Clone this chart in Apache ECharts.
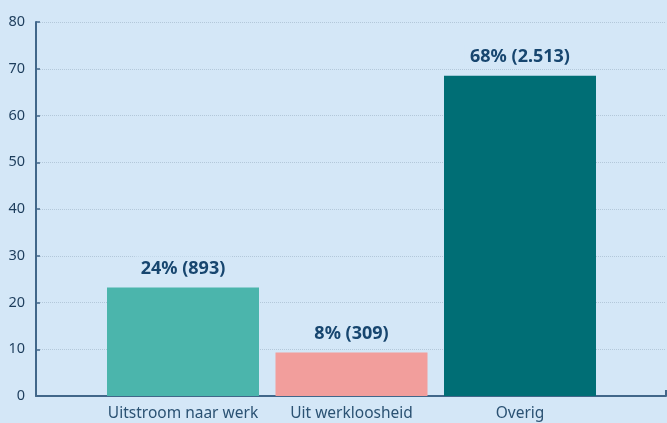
<!DOCTYPE html>
<html>
<head>
<meta charset="utf-8">
<script src="https://cdn.jsdelivr.net/npm/echarts@6/dist/echarts.min.js"></script>
<style>
  html, body { margin: 0; padding: 0; background: #d4e7f7; }
  #chart { width: 667px; height: 423px; }
</style>
</head>
<body>
<div id="chart"></div>
<script>
// data
const categories = ["Uitstroom naar werk", "Uit werkloosheid", "Overig"];
const values = [23.2, 9.3, 68.5];
const valueLabels = ["24% (893)", "8% (309)", "68% (2.513)"];
const barColors = ["#4bb5ac", "#f29e9c", "#006e75"];
const yTicks = [0, 10, 20, 30, 40, 50, 60, 70, 80];

const bg = "#d4e7f7";
const axisColor = "#41678a";
const font = "Noto Sans";

const chart = echarts.init(document.getElementById("chart"));

const options = {
  backgroundColor: bg,
  animation: false,
  textStyle: { fontFamily: font },
  grid: [
    // frame grid: axes + gridlines across the full width
    { left: 36, right: 1, top: 22, bottom: 27 },
    // bar grid: narrower bands for the bars
    { left: 98.75, right: 62.75, top: 22, bottom: 27 }
  ],
  xAxis: [
    {
      type: "category",
      gridIndex: 0,
      data: [""],
      axisLine: { lineStyle: { color: axisColor, width: 2 } },
      axisTick: { show: true, inside: true, length: 6, lineStyle: { color: axisColor, width: 2 } },
      axisLabel: { show: false }
    },
    {
      type: "category",
      gridIndex: 1,
      data: categories,
      axisLine: { show: false },
      axisTick: { show: false },
      axisLabel: { color: "#2b5273", fontSize: 15.5, margin: 10, interval: 0, fontFamily: font }
    }
  ],
  yAxis: [
    {
      type: "value",
      gridIndex: 0,
      min: yTicks[0],
      max: yTicks[yTicks.length - 1],
      interval: 10,
      axisLine: { show: true, lineStyle: { color: axisColor, width: 2 } },
      axisTick: { show: true, inside: true, length: 4, lineStyle: { color: axisColor, width: 1.5 } },
      axisLabel: { color: "#1d3d5c", fontSize: 14.5, margin: 11, fontFamily: font },
      splitLine: { show: true, lineStyle: { color: "#b3c8da", type: [1, 1], width: 1 } }
    },
    {
      type: "value",
      gridIndex: 1,
      min: yTicks[0],
      max: yTicks[yTicks.length - 1],
      interval: 10,
      show: false
    }
  ],
  series: [
    {
      type: "bar",
      xAxisIndex: 1,
      yAxisIndex: 1,
      barWidth: 152,
      data: values.map((v, i) => ({
        value: v,
        itemStyle: { color: barColors[i] },
        label: { formatter: valueLabels[i] }
      })),
      label: {
        show: true,
        position: "top",
        distance: 7,
        color: "#17466f",
        fontWeight: "bold",
        fontSize: 18,
        fontFamily: font,
        backgroundColor: bg,
        padding: [3, 6]
      }
    }
  ]
};

chart.setOption(options);
</script>
</body>
</html>
